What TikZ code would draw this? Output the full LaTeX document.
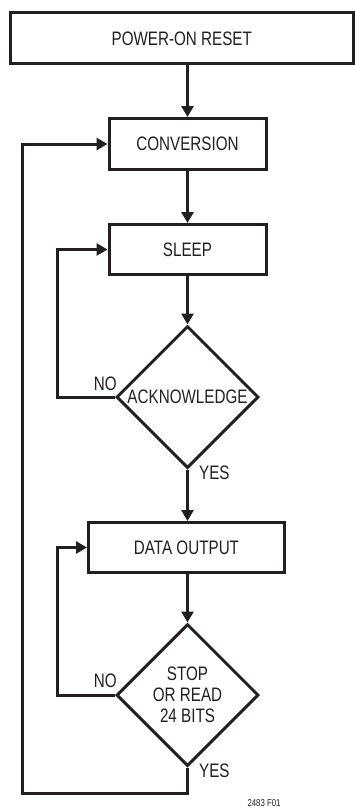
\documentclass[tikz,border=0pt]{standalone}
\usepackage{fontspec}
\setmainfont[FakeStretch=0.78]{Liberation Sans}
\usetikzlibrary{shapes.geometric,arrows.meta}
\definecolor{ink}{RGB}{35,31,32}
\tikzset{
  box/.style={draw=ink,line width=3pt,rectangle,inner sep=0pt,text=ink,font=\fontsize{19.5}{21}\selectfont},
  dec/.style={draw=ink,line width=3pt,diamond,aspect=1,minimum width=142pt,minimum height=142pt,inner sep=0pt,text=ink,align=center,font=\fontsize{19.5}{21}\selectfont},
  flow/.style={draw=ink,line width=3pt},
  arr/.style={flow,-{Triangle[length=11pt,width=12pt]}},
  lbl/.style={text=ink,inner sep=0pt,font=\fontsize{19.5}{21}\selectfont},
}
\begin{document}
\begin{tikzpicture}[x=1pt,y=-1pt]
\useasboundingbox (0,0) rectangle (355,808);
\node[box,minimum width=343.5pt,minimum height=51pt] (reset) at (181.75,38.5) {POWER-ON RESET};
\node[box,minimum width=157pt,minimum height=51pt] (conv) at (187.5,144) {CONVERSION};
\node[box,minimum width=157pt,minimum height=50pt] (sleep) at (187.5,249.5) {SLEEP};
\node[dec] (ack) at (187.5,397) {ACKNOWLEDGE};
\node[box,minimum width=196pt,minimum height=50pt] (data) at (186.5,547.5) {DATA OUTPUT};
\node[dec] (stop) at (187.5,695) {STOP\\OR READ\\24 BITS};
\draw[arr] (reset.south -| conv.north) -- (conv.north);
\draw[arr] (conv.south) -- (sleep.north);
\draw[arr] (sleep.south) -- (ack.north);
\draw[arr] (ack.south) -- (ack.south |- data.north);
\draw[arr] (data.south -| stop.north) -- (stop.north);
\coordinate (al) at (57,397);
\draw[arr] (ack.west) -- (al) |- (sleep.west);
\coordinate (sl) at (57,695);
\draw[arr] (stop.west) -- (sl) |- (data.west);
\coordinate (lb) at (187.5,793);
\coordinate (lt) at (22,144);
\draw[arr] (stop.south) -- (lb) -| (lt) -- (conv.west);
\node[lbl,anchor=east] (no1) at (117,384) {NO};
\node[lbl,anchor=west] (yes1) at (199,473) {YES};
\node[lbl,anchor=east] (no2) at (117,681) {NO};
\node[lbl,anchor=west] (yes2) at (199,771) {YES};
\node[text=ink,inner sep=0pt,font=\fontsize{10}{12}\selectfont] (fig) at (264,803) {2483 F01};
\end{tikzpicture}
\end{document}
